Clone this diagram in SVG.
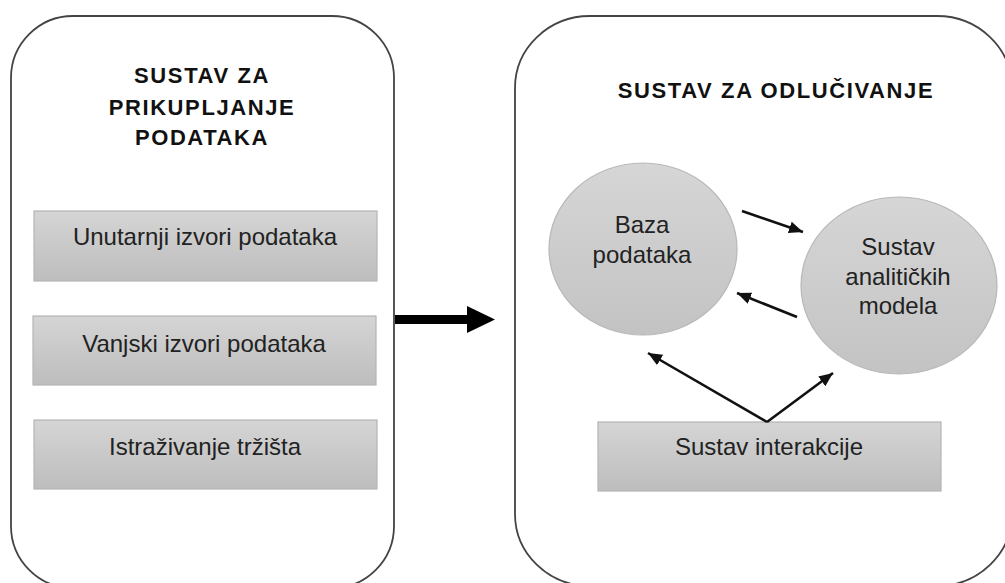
<svg xmlns="http://www.w3.org/2000/svg" width="1005" height="583" viewBox="0 0 1005 583">
<style>
.container{fill:#ffffff;stroke:#444444;stroke-width:1.8}
.box{fill:url(#gBox);stroke:#b5b5b5;stroke-width:1.2}
.circ{fill:url(#gCirc);stroke:#b8b8b8;stroke-width:1.2}
.title{font-family:"Liberation Sans",Arial,sans-serif;font-weight:bold;font-size:22px;letter-spacing:1.6px;fill:#111111;text-anchor:middle}
.lbl{font-family:"Liberation Sans",Arial,sans-serif;font-size:24px;fill:#222222;text-anchor:middle}
.conn{stroke:#111111;stroke-width:2.6;fill:none}
</style>
<defs>
<linearGradient id="gBox" x1="0" y1="0" x2="0" y2="1">
<stop offset="0" stop-color="#d5d5d5"/>
<stop offset="1" stop-color="#bdbdbd"/>
</linearGradient>
<linearGradient id="gCirc" x1="0" y1="0" x2="0" y2="1">
<stop offset="0" stop-color="#d6d6d6"/>
<stop offset="1" stop-color="#c3c3c3"/>
</linearGradient>
<marker id="ah" markerUnits="userSpaceOnUse" markerWidth="16" markerHeight="14" refX="14" refY="6" orient="auto">
<path d="M0,0 L14,6 L0,12 z" fill="#111111"/>
</marker>
</defs>
<rect width="1005" height="583" fill="#ffffff"/>

<g id="container-left">
<rect class="container" x="11" y="16" width="383" height="572" rx="62" ry="62"/>
<text class="title" x="202" y="83">SUSTAV ZA</text>
<text class="title" x="202" y="115">PRIKUPLJANJE</text>
<text class="title" x="202" y="145">PODATAKA</text>
</g>

<g id="container-right">
<rect class="container" x="515" y="16" width="497" height="570" rx="75" ry="72"/>
<text class="title" x="776" y="98">SUSTAV ZA ODLUČIVANJE</text>
</g>

<g id="box-unutarnji">
<rect class="box" x="34" y="211" width="343" height="70"/>
<text class="lbl" x="205" y="245">Unutarnji izvori podataka</text>
</g>

<g id="box-vanjski">
<rect class="box" x="33" y="316" width="343" height="69"/>
<text class="lbl" x="204" y="352">Vanjski izvori podataka</text>
</g>

<g id="box-istrazivanje">
<rect class="box" x="34" y="420" width="343" height="69"/>
<text class="lbl" x="205" y="455">Istraživanje tržišta</text>
</g>

<g id="node-baza">
<ellipse class="circ" cx="643" cy="249" rx="94" ry="86"/>
<text class="lbl" x="642" y="233">Baza</text>
<text class="lbl" x="642" y="263">podataka</text>
</g>

<g id="node-analiticki">
<ellipse class="circ" cx="899" cy="285.5" rx="98" ry="88.5"/>
<text class="lbl" x="898" y="255">Sustav</text>
<text class="lbl" x="898" y="285">analitičkih</text>
<text class="lbl" x="898" y="314">modela</text>
</g>

<g id="box-interakcija">
<rect class="box" x="598" y="422" width="343" height="69"/>
<text class="lbl" x="769" y="455">Sustav interakcije</text>
</g>

<g id="connectors">
<path d="M395,319.5 L467,319.5" stroke="#000000" stroke-width="9" fill="none"/>
<path d="M467,306 L495,319.5 L467,333 z" fill="#000000"/>
<line class="conn" x1="742" y1="211" x2="803" y2="232" marker-end="url(#ah)"/>
<line class="conn" x1="797" y1="317" x2="737" y2="293" marker-end="url(#ah)"/>
<line class="conn" x1="767" y1="422" x2="648" y2="353" marker-end="url(#ah)"/>
<line class="conn" x1="767" y1="422" x2="833" y2="373" marker-end="url(#ah)"/>
</g>
</svg>
